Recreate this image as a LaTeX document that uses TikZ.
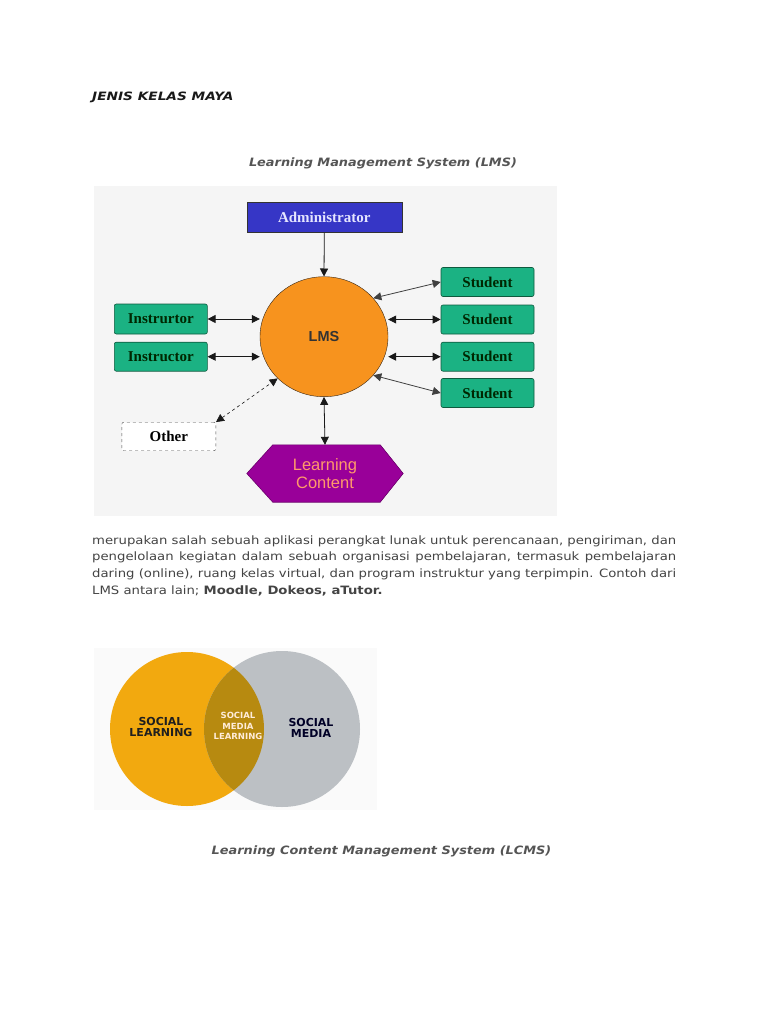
\documentclass[tikz,border=0pt]{standalone}
\usepackage{fontspec}
\usetikzlibrary{arrows.meta,shapes.geometric,backgrounds}
\newfontfamily\verdp{DejaVu Sans}[FakeStretch=1.15]
\newfontfamily\verdh{DejaVu Sans}[FakeStretch=1.19]
\newfontfamily\verdt{DejaVu Sans}[FakeStretch=1.12]
\newfontfamily\verd{DejaVu Sans}
\newfontfamily\tnr{Liberation Serif}
\newfontfamily\arial{Liberation Sans}
\definecolor{admblue}{HTML}{3636C6}
\definecolor{grn}{HTML}{1BB283}
\definecolor{grnb}{HTML}{0E5A3E}
\definecolor{lmsor}{HTML}{F7931E}
\definecolor{purp}{HTML}{990099}
\definecolor{salmon}{HTML}{FF9A6A}
\definecolor{vor}{HTML}{F2A90F}
\definecolor{vgr}{HTML}{BCC0C4}
\definecolor{vmix}{HTML}{B78A10}
\definecolor{ptext}{HTML}{444444}
\definecolor{stext}{HTML}{555555}
\tikzset{
  boxfont/.style={font=\tnr\bfseries\fontsize{15}{17}\selectfont},
  greenbox/.style={boxfont, draw=grnb, fill=grn, rounded corners=2pt, minimum width=93pt, minimum height=29pt, inner sep=0pt, text=black!85!green, line width=0.6pt},
  conn/.style={line width=0.8pt, draw=black!90, {Triangle[length=8pt,width=8pt]}-{Triangle[length=8pt,width=8pt]}},
  conn1/.style={line width=0.8pt, draw=black!90, -{Triangle[length=8pt,width=8pt]}},
  para/.style={anchor=west, inner sep=0pt, font=\verdp\fontsize{11.5}{13}\selectfont, text=ptext},
  subtitle/.style={inner sep=0pt, font=\verdt\bfseries\itshape\fontsize{11.5}{13}\selectfont, text=stext},
  vtext/.style={font=\verd\bfseries\fontsize{11}{11}\selectfont, align=center, inner sep=0pt}
}
\begin{document}
\begin{tikzpicture}[x=1pt,y=-1pt]
\useasboundingbox (0,0) rectangle (768,1024);

% page texts
\node[anchor=west, inner sep=0pt, font=\verdh\bfseries\itshape\fontsize{11.5}{13}\selectfont, text=black!90] (title) at (92,97) {JENIS KELAS MAYA};
\node[subtitle] (lmstitle) at (383,163) {Learning Management System (LMS)};

% LMS diagram
\node[boxfont, draw=black!80, fill=admblue, minimum width=155pt, minimum height=30pt, inner sep=0pt, text=white!90!blue] (admin) at (324.3,217.5) {Administrator};
\node[draw=black!70!brown, fill=lmsor, ellipse, minimum width=128pt, minimum height=120pt, inner sep=0pt, font=\arial\bfseries\fontsize{14.5}{16}\selectfont, text=black!80] (lms) at (324,336.7) {LMS};
\node[greenbox] (s1) at (487.5,282) {Student};
\node[greenbox] (s2) at (487.5,319.5) {Student};
\node[greenbox] (s3) at (487.5,356.7) {Student};
\node[greenbox] (s4) at (487.5,393) {Student};
\node[greenbox, minimum height=30pt] (i1) at (160.8,319) {Instrurtor};
\node[greenbox] (i2) at (160.8,356.7) {Instructor};
\node[boxfont, draw=black!70, dashed, fill=white, rounded corners=2pt, minimum width=94pt, minimum height=28.5pt, inner sep=0pt] (other) at (168.8,436.5) {Other};
\node[minimum width=156pt, minimum height=57pt, inner sep=0pt, align=center, font=\arial\fontsize{16.5}{17.5}\selectfont, text=salmon] (lc) at (325,473.5) {Learning\\Content};
\begin{scope}[on background layer]
\fill[white] (0,0) rectangle (768,1024);
\fill[black!4] (94,186) rectangle (557,516);
\fill[purp, draw=purp!70!black, line width=0.6pt] (lc.west) -- ([xshift=26pt]lc.north west) -- ([xshift=-23pt]lc.north east) -- (lc.east) -- ([xshift=-23pt]lc.south east) -- ([xshift=26pt]lc.south west) -- cycle;
\end{scope}

\draw[conn1] (admin.south) -- (lms.north);
\draw[conn] (lms.south) -- (lc.north);
\draw[conn] (i1.east) -- (lms.west |- i1.east);
\draw[conn] (i2.east) -- (lms.west |- i2.east);
\draw[conn] (s2.west) -- (lms.east |- s2.west);
\draw[conn] (s3.west) -- (lms.east |- s3.west);
\draw[conn, draw=black!75] (s1.west) -- (lms.38);
\draw[conn, draw=black!75] (s4.west) -- (lms.-38);
\draw[conn, dashed, line width=0.6pt] (other.north east) -- (lms.222);

% paragraph
\node[para] (p1) at (92,541) {\makebox[584pt][s]{merupakan salah sebuah aplikasi perangkat lunak untuk perencanaan, pengiriman, dan}};
\node[para] (p2) at (92,557.5) {\makebox[584pt][s]{pengelolaan kegiatan dalam sebuah organisasi pembelajaran, termasuk pembelajaran}};
\node[para] (p3) at (92,574.5) {\makebox[584pt][s]{daring (online), ruang kelas virtual, dan program instruktur yang terpimpin. Contoh dari}};
\node[para] (p4) at (92,591) {LMS antara lain; {\bfseries Moodle, Dokeos, aTutor.}};

% Venn diagram
\fill[black!2] (94,648) rectangle (377,810);
\fill[vor] (187,729) circle (77);
\fill[vgr] (282,729) circle (78);
\begin{scope}
\clip (187,729) circle (77);
\fill[vmix] (282,729) circle (78);
\end{scope}
\node[vtext, text=black!88] (sl) at (161,726.5) {SOCIAL\\LEARNING};
\node[vtext, text=black!85!blue] (sm) at (311,728) {SOCIAL\\MEDIA};
\node[vtext, font=\verd\bfseries\fontsize{8.5}{10.2}\selectfont, text=white!85!orange] (sml) at (238,726) {SOCIAL\\MEDIA\\LEARNING};

\node[subtitle] (lcmstitle) at (381.5,851) {Learning Content Management System (LCMS)};
\end{tikzpicture}
\end{document}
